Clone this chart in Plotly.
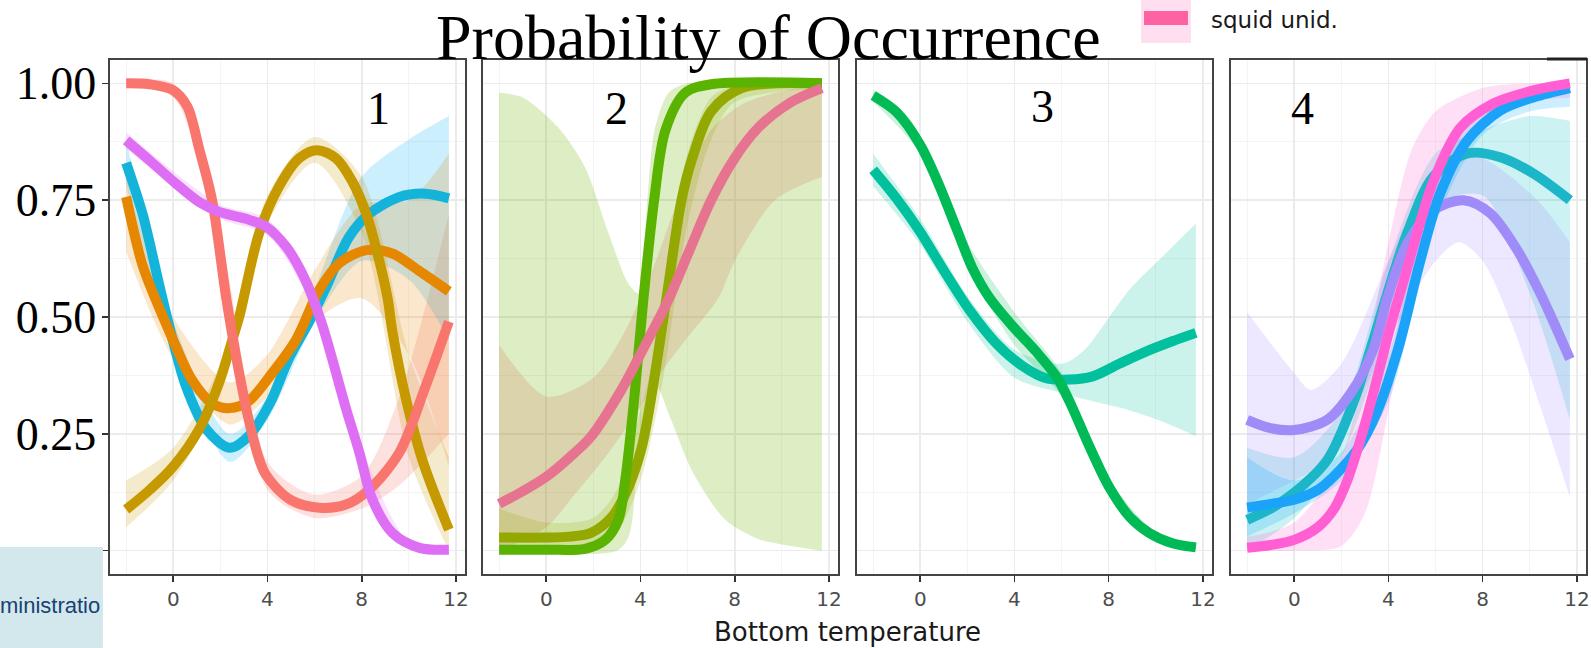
import plotly.graph_objects as go

# ---------------- data ----------------
# Panel 1
p1_red_x = [-2, -1, 0, 0.6, 1.1, 1.65, 2.25, 2.8, 3.3, 3.9, 5.0, 6.2, 7.3, 8.3, 9.6, 10.7, 11.7]
p1_red_y = [1.0, 0.998, 0.985, 0.95, 0.86, 0.75, 0.54, 0.38, 0.26, 0.165, 0.108, 0.092, 0.098, 0.13, 0.21, 0.35, 0.49]
p1_red_bx = [-2, 0, 2, 4, 6, 8, 9.6, 11.7]
p1_red_lo = [0.99, 0.97, 0.62, 0.13, 0.07, 0.09, 0.14, 0.25]
p1_red_hi = [1.0, 1.0, 0.68, 0.19, 0.12, 0.16, 0.33, 0.72]

p1_orange_x = [-2, -1.3, -0.6, 0, 0.8, 1.65, 2.4, 3.2, 4.2, 5.2, 6.2, 7.05, 8.2, 9.3, 10.4, 11.7]
p1_orange_y = [0.757, 0.61, 0.52, 0.45, 0.365, 0.315, 0.305, 0.32, 0.38, 0.45, 0.558, 0.615, 0.643, 0.636, 0.60, 0.555]
p1_orange_bx = [-2, 0, 2.4, 4, 6, 8, 10, 11.7]
p1_orange_lo = [0.64, 0.41, 0.27, 0.33, 0.49, 0.54, 0.42, 0.18]
p1_orange_hi = [0.80, 0.50, 0.36, 0.42, 0.60, 0.74, 0.75, 0.85]

p1_gold_x = [-2, -1, 0, 1.1, 1.95, 2.5, 2.8, 3.65, 4.5, 5.35, 6.1, 6.9, 7.6, 8.2, 8.65, 9.1, 9.3, 9.9, 10.6, 11.7]
p1_gold_y = [0.088, 0.13, 0.18, 0.26, 0.36, 0.45, 0.50, 0.68, 0.78, 0.84, 0.857, 0.84, 0.79, 0.72, 0.64, 0.54, 0.47, 0.32, 0.19, 0.045]
p1_gold_bx = [-2, 0, 2, 4, 6, 8, 10, 11.7]
p1_gold_lo = [0.05, 0.15, 0.34, 0.70, 0.83, 0.68, 0.20, 0.0]
p1_gold_hi = [0.15, 0.22, 0.40, 0.76, 0.885, 0.80, 0.42, 0.20]

p1_cyan_x = [-2, -1.3, -0.6, -0.17, 0.55, 1.4, 2.4, 3.2, 4.1, 4.9, 5.77, 6.5, 7.45, 8.3, 9.6, 10.7, 11.7]
p1_cyan_y = [0.83, 0.72, 0.57, 0.48, 0.35, 0.26, 0.22, 0.245, 0.315, 0.41, 0.49, 0.565, 0.67, 0.72, 0.757, 0.764, 0.754]
p1_cyan_bx = [-2, 0, 2.4, 4, 6, 8, 10, 11.7]
p1_cyan_lo = [0.78, 0.44, 0.19, 0.28, 0.49, 0.62, 0.58, 0.45]
p1_cyan_hi = [0.88, 0.49, 0.25, 0.33, 0.56, 0.80, 0.88, 0.93]

p1_magenta_x = [-2, -1, 0.1, 1.1, 1.95, 3.1, 3.95, 4.8, 5.6, 6.3, 6.75, 7.3, 7.9, 8.45, 9.3, 10.45, 11.7]
p1_magenta_y = [0.878, 0.835, 0.786, 0.746, 0.725, 0.71, 0.693, 0.65, 0.58, 0.487, 0.41, 0.31, 0.21, 0.11, 0.038, 0.006, 0.002]
p1_magenta_bx = [-2, 2, 4, 6, 8, 10, 11.7]
p1_magenta_lo = [0.86, 0.71, 0.675, 0.51, 0.17, 0.005, 0.0]
p1_magenta_hi = [0.895, 0.74, 0.71, 0.55, 0.22, 0.02, 0.01]

# Panel 2
p2_pink_x = [-2, -1, 0, 1, 1.9, 3.19, 4.2, 5.18, 6.1, 7.0, 8.0, 9.0, 10.4, 11.7]
p2_pink_y = [0.10, 0.127, 0.158, 0.20, 0.244, 0.344, 0.44, 0.536, 0.645, 0.75, 0.84, 0.905, 0.96, 0.99]
p2_pink_bx = [-2, 0, 1.2, 2.5, 3.9, 5.0, 5.9, 7.3, 8.0, 9.7, 11.7]
p2_pink_lo = [0.0, 0.05, 0.12, 0.20, 0.30, 0.39, 0.45, 0.54, 0.62, 0.75, 0.80]
p2_pink_hbx = [-2, 0, 2, 3.35, 4.5, 5.6, 7.0, 8.5, 11.7]
p2_pink_hi = [0.44, 0.33, 0.37, 0.47, 0.60, 0.75, 0.90, 0.96, 1.0]

p2_olive_x = [-2, 0, 1, 1.9, 2.8, 3.5, 4.05, 4.44, 5.09, 5.74, 6.2, 7.0, 8.3, 11.7]
p2_olive_y = [0.028, 0.028, 0.03, 0.038, 0.073, 0.137, 0.22, 0.323, 0.536, 0.75, 0.84, 0.94, 0.99, 1.0]
p2_olive_bx = [-2, 0, 2, 3, 4, 4.5, 5, 6, 7, 8, 11.7]
p2_olive_lo = [0.0, 0.01, 0.015, 0.04, 0.15, 0.25, 0.38, 0.70, 0.88, 0.96, 0.99]
p2_olive_hi = [0.09, 0.06, 0.07, 0.13, 0.30, 0.40, 0.55, 0.85, 0.97, 0.995, 1.0]

p2_green_x = [-2, 0, 1.65, 2.5, 3.06, 3.35, 3.73, 4.12, 4.58, 5.06, 5.9, 7.0, 11.7]
p2_green_y = [0.002, 0.002, 0.004, 0.023, 0.066, 0.15, 0.323, 0.536, 0.75, 0.90, 0.98, 0.998, 1.0]
p2_green_lbx = [-2, 3.0, 3.5, 4.0, 4.6, 5.3, 6.2, 7.6, 9.0, 10.4, 11.7]
p2_green_lo = [0.0, 0.0, 0.03, 0.25, 0.36, 0.28, 0.17, 0.066, 0.025, 0.01, 0.0]
p2_green_hbx = [-2, -1, 0.5, 1.65, 2.64, 3.5, 3.95, 4.25, 4.6, 5.2, 6, 8, 11.7]
p2_green_hi = [0.98, 0.97, 0.906, 0.82, 0.68, 0.57, 0.55, 0.72, 0.90, 0.98, 1.0, 1.0, 1.0]

# Panel 3
p3_teal_x = [-2, -1, 0, 0.96, 2.09, 3.22, 4.35, 5.34, 6.33, 7.32, 8.45, 9.58, 10.7, 11.7]
p3_teal_y = [0.815, 0.753, 0.682, 0.603, 0.515, 0.444, 0.395, 0.369, 0.366, 0.373, 0.40, 0.426, 0.448, 0.466]
p3_teal_bx = [-2, 0, 2, 4, 6, 6.9, 8.9, 10.3, 11.7]
p3_teal_lo = [0.78, 0.655, 0.49, 0.37, 0.338, 0.325, 0.30, 0.276, 0.245]
p3_teal_hi = [0.85, 0.71, 0.545, 0.43, 0.40, 0.426, 0.56, 0.63, 0.70]

p3_green_x = [-2, -1, 0, 0.82, 1.53, 2.23, 2.94, 3.93, 4.92, 5.77, 6.33, 7.18, 8.03, 8.88, 9.72, 10.7, 11.7]
p3_green_y = [0.974, 0.938, 0.868, 0.78, 0.69, 0.603, 0.541, 0.48, 0.426, 0.373, 0.32, 0.223, 0.135, 0.073, 0.038, 0.016, 0.007]
p3_green_bx = [-2, 0, 2, 4, 6, 8, 10, 11.7]
p3_green_lo = [0.96, 0.85, 0.61, 0.44, 0.33, 0.12, 0.02, 0.003]
p3_green_hi = [0.985, 0.885, 0.66, 0.51, 0.38, 0.155, 0.04, 0.015]

# Panel 4
p4_pink_x = [-2, -1, 0, 1, 1.7, 2.25, 2.93, 3.5, 4.08, 4.6, 5.05, 5.9, 7.05, 8.45, 10.15, 11.7]
p4_pink_y = [0.006, 0.012, 0.023, 0.05, 0.09, 0.15, 0.258, 0.365, 0.48, 0.57, 0.65, 0.79, 0.905, 0.957, 0.985, 1.0]
p4_pink_bx = [-2, 0, 2, 3, 4, 5, 6, 8, 10, 11.7]
p4_pink_lo = [0.0, 0.0, 0.01, 0.08, 0.30, 0.56, 0.73, 0.91, 0.96, 0.97]
p4_pink_hi = [0.03, 0.06, 0.20, 0.40, 0.66, 0.86, 0.94, 0.99, 1.0, 1.0]

p4_blue_x = [-2, -1, 0, 1, 1.66, 2.67, 3.5, 4.4, 5.35, 6.2, 7.35, 8.75, 10.15, 11.7]
p4_blue_y = [0.092, 0.10, 0.109, 0.13, 0.158, 0.216, 0.295, 0.43, 0.62, 0.765, 0.878, 0.942, 0.97, 0.99]
p4_blue_bx = [-2, 0, 2, 4, 6, 8, 10, 11.7]
p4_blue_lo = [0.03, 0.08, 0.15, 0.32, 0.70, 0.89, 0.94, 0.95]
p4_blue_hi = [0.20, 0.15, 0.21, 0.42, 0.80, 0.95, 0.99, 1.0]

p4_teal_x = [-2, -1, 0, 1.4, 2.5, 3.35, 3.95, 4.8, 5.9, 7.35, 8.75, 10.15, 11.7]
p4_teal_y = [0.066, 0.09, 0.124, 0.194, 0.316, 0.45, 0.55, 0.68, 0.80, 0.85, 0.842, 0.807, 0.75]
p4_teal_bx = [-2, 0, 2, 4, 6, 8, 10, 11.7]
p4_teal_lo = [0.0, 0.07, 0.20, 0.47, 0.74, 0.76, 0.55, 0.28]
p4_teal_hi = [0.22, 0.20, 0.30, 0.62, 0.85, 0.90, 0.93, 0.92]

p4_violet_x = [-2, -1, 0, 1.4, 2.4, 3.35, 3.95, 4.8, 5.9, 7.18, 8.32, 9.47, 10.45, 11.0, 11.7]
p4_violet_y = [0.28, 0.262, 0.258, 0.28, 0.337, 0.43, 0.54, 0.658, 0.728, 0.75, 0.722, 0.643, 0.55, 0.49, 0.41]
p4_violet_bx = [-2, 0, 0.7, 2, 4, 6, 7, 8, 9.2, 10.5, 11.7]
p4_violet_lo = [0.10, 0.15, 0.17, 0.25, 0.45, 0.62, 0.66, 0.62, 0.49, 0.30, 0.115]
p4_violet_hi = [0.51, 0.38, 0.344, 0.40, 0.62, 0.82, 0.85, 0.84, 0.80, 0.74, 0.66]

x_ticks = [0, 4, 8, 12]
x_minor = [-2, 2, 6, 10]
y_ticks = [0, 0.25, 0.5, 0.75, 1.0]
y_ticktext = ["", "0.25", "0.50", "0.75", "1.00"]
y_minor = [0.125, 0.375, 0.625, 0.875]
panel_labels = ["1", "2", "3", "4"]
panel_label_x = [8.73, 3.0, 5.2, 0.36]
panel_label_y = [0.947, 0.947, 0.95, 0.947]

# (panel, band x lo, lo, band x hi, hi, band rgba)
bands = [
    (1, p1_red_bx, p1_red_lo, p1_red_bx, p1_red_hi, "rgba(248,118,109,0.22)"),
    (1, p1_cyan_bx, p1_cyan_lo, p1_cyan_bx, p1_cyan_hi, "rgba(0,176,246,0.2)"),
    (1, p1_orange_bx, p1_orange_lo, p1_orange_bx, p1_orange_hi, "rgba(229,135,0,0.2)"),
    (1, p1_gold_bx, p1_gold_lo, p1_gold_bx, p1_gold_hi, "rgba(201,152,0,0.2)"),
    (1, p1_magenta_bx, p1_magenta_lo, p1_magenta_bx, p1_magenta_hi, "rgba(231,107,243,0.2)"),
    (2, p2_pink_bx, p2_pink_lo, p2_pink_hbx, p2_pink_hi, "rgba(240,120,130,0.25)"),
    (2, p2_olive_bx, p2_olive_lo, p2_olive_bx, p2_olive_hi, "rgba(163,165,0,0.2)"),
    (2, p2_green_lbx, p2_green_lo, p2_green_hbx, p2_green_hi, "rgba(107,177,0,0.23)"),
    (3, p3_teal_bx, p3_teal_lo, p3_teal_bx, p3_teal_hi, "rgba(0,192,160,0.2)"),
    (3, p3_green_bx, p3_green_lo, p3_green_bx, p3_green_hi, "rgba(0,186,80,0.2)"),
    (4, p4_teal_bx, p4_teal_lo, p4_teal_bx, p4_teal_hi, "rgba(0,191,196,0.2)"),
    (4, p4_violet_bx, p4_violet_lo, p4_violet_bx, p4_violet_hi, "rgba(165,138,255,0.2)"),
    (4, p4_blue_bx, p4_blue_lo, p4_blue_bx, p4_blue_hi, "rgba(0,169,255,0.2)"),
    (4, p4_pink_bx, p4_pink_lo, p4_pink_bx, p4_pink_hi, "rgba(253,97,209,0.2)"),
]

lines = [
    (1, p1_cyan_x, p1_cyan_y, "#14B3DA"),
    (1, p1_orange_x, p1_orange_y, "#E58700"),
    (1, p1_gold_x, p1_gold_y, "#C69900"),
    (1, p1_red_x, p1_red_y, "#F8766D"),
    (1, p1_magenta_x, p1_magenta_y, "#DE6FF5"),
    (2, p2_olive_x, p2_olive_y, "#93A800"),
    (2, p2_green_x, p2_green_y, "#5AB300"),
    (2, p2_pink_x, p2_pink_y, "#E6738F"),
    (3, p3_teal_x, p3_teal_y, "#00C09E"),
    (3, p3_green_x, p3_green_y, "#00BB55"),
    (4, p4_teal_x, p4_teal_y, "#1DB6C8"),
    (4, p4_violet_x, p4_violet_y, "#A08CF8"),
    (4, p4_blue_x, p4_blue_y, "#1AA3F8"),
    (4, p4_pink_x, p4_pink_y, "#FF5FD3"),
]

# ---------------- figure ----------------
W, H = 1591, 648
domains = [(110, 465), (483, 838), (857, 1212), (1231, 1586)]
top_px, bot_px = 60, 574
XR = [-2.685, 12.385]
YR = [-0.05, 1.05]


def ax_names(p):
    return ("x" if p == 1 else f"x{p}"), ("y" if p == 1 else f"y{p}")


fig = go.Figure()

for p, lbx, lo, hbx, hi, col in bands:
    xa, ya = ax_names(p)
    fig.add_trace(go.Scatter(x=lbx, y=lo, mode="lines", line=dict(width=0, shape="spline", smoothing=0.8),
                             hoverinfo="skip", showlegend=False, xaxis=xa, yaxis=ya))
    fig.add_trace(go.Scatter(x=hbx, y=hi, mode="lines", line=dict(width=0, shape="spline", smoothing=0.8),
                             fill="tonexty", fillcolor=col, hoverinfo="skip", showlegend=False,
                             xaxis=xa, yaxis=ya))

for p, xs, ys, col in lines:
    xa, ya = ax_names(p)
    fig.add_trace(go.Scatter(x=xs, y=ys, mode="lines",
                             line=dict(color=col, width=10, shape="spline", smoothing=0.9),
                             hoverinfo="skip", showlegend=False, xaxis=xa, yaxis=ya))

layout = dict(
    width=W, height=H, autosize=False,
    margin=dict(l=0, r=0, t=0, b=0, pad=0),
    paper_bgcolor="white", plot_bgcolor="white",
    showlegend=False,
)

for i, (l, r) in enumerate(domains, start=1):
    xkey = "xaxis" if i == 1 else f"xaxis{i}"
    ykey = "yaxis" if i == 1 else f"yaxis{i}"
    ya_name = "y" if i == 1 else f"y{i}"
    xa_name = "x" if i == 1 else f"x{i}"
    layout[xkey] = dict(
        domain=[l / W, r / W], range=XR, anchor=ya_name,
        tickvals=x_ticks, ticks="outside", ticklen=6, tickwidth=1.6, tickcolor="#333333",
        tickfont=dict(family="DejaVu Sans", size=20, color="#4D4D4D"),
        showgrid=True, gridcolor="#EBEBEB", gridwidth=1.6,
        minor=dict(tickvals=x_minor, showgrid=True, gridcolor="#F3F3F3", gridwidth=0.9, ticks=""),
        showline=True, mirror=True, linecolor="#444444", linewidth=1.6,
        zeroline=False, fixedrange=True, automargin=False,
    )
    ydict = dict(
        domain=[1 - bot_px / H, 1 - top_px / H], range=YR, anchor=xa_name,
        tickvals=y_ticks,
        showgrid=True, gridcolor="#EBEBEB", gridwidth=1.6,
        minor=dict(tickvals=y_minor, showgrid=True, gridcolor="#F3F3F3", gridwidth=0.9, ticks=""),
        showline=True, mirror=True, linecolor="#444444", linewidth=1.6,
        zeroline=False, fixedrange=True, automargin=False,
    )
    if i == 1:
        ydict.update(ticktext=y_ticktext, ticks="outside", ticklen=6, tickwidth=1.6, tickcolor="#333333",
                     ticklabelstandoff=-3,
                     tickfont=dict(family="Liberation Serif", size=46, color="black"))
    else:
        ydict.update(showticklabels=False, ticks="")
    layout[ykey] = ydict

fig.update_layout(**layout)

annotations = []
for i, (txt, lx, ly) in enumerate(zip(panel_labels, panel_label_x, panel_label_y), start=1):
    xa, ya = ax_names(i)
    annotations.append(dict(text=txt, x=lx, y=ly, xref=xa, yref=ya, showarrow=False,
                            font=dict(family="Liberation Serif", size=46, color="black"),
                            xanchor="center", yanchor="middle"))

annotations += [
    dict(text="Probability of Occurrence", x=768 / W, y=1.0, xref="paper", yref="paper",
         showarrow=False, xanchor="center", yanchor="top",
         font=dict(family="Liberation Serif", size=64, color="black")),
    dict(text="Bottom temperature", x=847 / W, y=1 - 632 / H, xref="paper", yref="paper",
         showarrow=False, xanchor="center", yanchor="middle",
         font=dict(family="DejaVu Sans", size=26, color="#1A1A1A")),
    dict(text="squid unid.", x=1209 / W, y=1 - 20 / H, xref="paper", yref="paper",
         showarrow=False, xanchor="left", yanchor="middle",
         font=dict(family="DejaVu Sans", size=23, color="#1A1A1A")),
    dict(text="ministratio", x=102 / W, y=1 - 605 / H, xref="paper", yref="paper",
         showarrow=False, xanchor="right", yanchor="middle",
         font=dict(family="Liberation Sans", size=22, color="#1B3F73")),
]

shapes = [
    dict(type="rect", xref="paper", yref="paper", x0=0, x1=103 / W, y0=0, y1=1 - 547 / H,
         fillcolor="#D3E8EC", line=dict(width=0), layer="above"),
    dict(type="rect", xref="paper", yref="paper", x0=1141 / W, x1=1191 / W, y0=1 - 43 / H, y1=1,
         fillcolor="#FFDFEF", line=dict(width=0), layer="above"),
    dict(type="line", xref="paper", yref="paper", x0=1144 / W, x1=1188 / W, y0=1 - 18 / H, y1=1 - 18 / H,
         line=dict(color="#FF62A2", width=14), layer="above"),
    dict(type="line", xref="paper", yref="paper", x0=1547 / W, x1=1587 / W, y0=1 - 59 / H, y1=1 - 59 / H,
         line=dict(color="#222222", width=3), layer="above"),
]

fig.update_layout(annotations=annotations, shapes=shapes)
fig.write_html("out.html",
               config={"displayModeBar": False, "staticPlot": True},
               post_script="document.body.style.margin='0px';document.body.style.overflow='hidden';")
